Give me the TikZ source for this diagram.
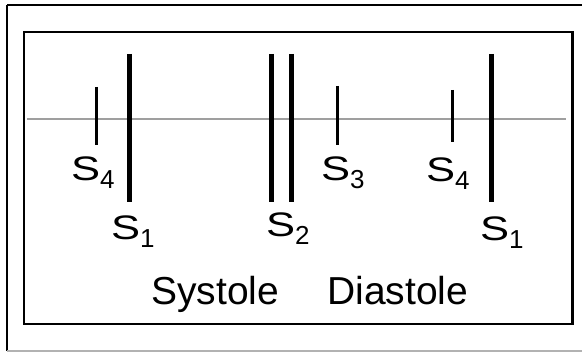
\documentclass[tikz,border=0pt]{standalone}
\usepackage{fontspec}
\setmainfont{Liberation Sans}
\newfontfamily\lblSfont[FakeStretch=1.28]{Liberation Sans}
\newcommand{\slbl}[1]{{\fontsize{34}{34}\selectfont\lblSfont S}\raisebox{-8pt}{\fontsize{26}{26}\selectfont #1}}
\tikzset{
  thickbeat/.style={line width=5pt, black},
  thinbeat/.style={line width=3pt, black},
  baseln/.style={line width=2pt, gray!75},
  lbl/.style={inner sep=0pt, anchor=base west},
  phase/.style={inner sep=0pt, anchor=base west, font=\fontsize{39}{39}\selectfont},
  frame/.style={line width=2.5pt, black}
}
\begin{document}
\begin{tikzpicture}[x=1pt,y=-1pt]
\useasboundingbox (0,0) rectangle (582,352);
% outer frame (open at right)
\draw[line width=2.5pt] (7,5) -- (582,5);
\draw[line width=2pt] (7,5) -- (7,351);
\draw[line width=1.5pt, gray!60] (7,351) -- (582,351);
% inner frame
\draw[frame] (24,32) rectangle (572.5,324);
% time axis
\coordinate (axL) at (27,119);
\coordinate (axR) at (566,119);
\draw[baseln] (axL) -- (axR);
% heart sounds
\draw[thinbeat]  (96,87)   -- (96,145);
\draw[thickbeat] (129,54)  -- (129,202);
\draw[thickbeat] (271,54)  -- (271,202);
\draw[thickbeat] (291,54)  -- (291,202);
\draw[thinbeat]  (337.5,86) -- (337.5,145);
\draw[thinbeat]  (452,90)  -- (452,142);
\draw[thickbeat] (491,54)  -- (491,202);
% labels
\node[lbl] (s4a) at (71,181) {\slbl{4}};
\node[lbl] (s1a) at (111,240) {\slbl{1}};
\node[lbl] (s2)  at (266,237) {\slbl{2}};
\node[lbl] (s3)  at (321,181) {\slbl{3}};
\node[lbl] (s4b) at (426,182) {\slbl{4}};
\node[lbl] (s1b) at (480,241) {\slbl{1}};
\node[phase] (sys) at (151,305) {Systole};
\node[phase] (dia) at (327,305) {Diastole};
\end{tikzpicture}
\end{document}
